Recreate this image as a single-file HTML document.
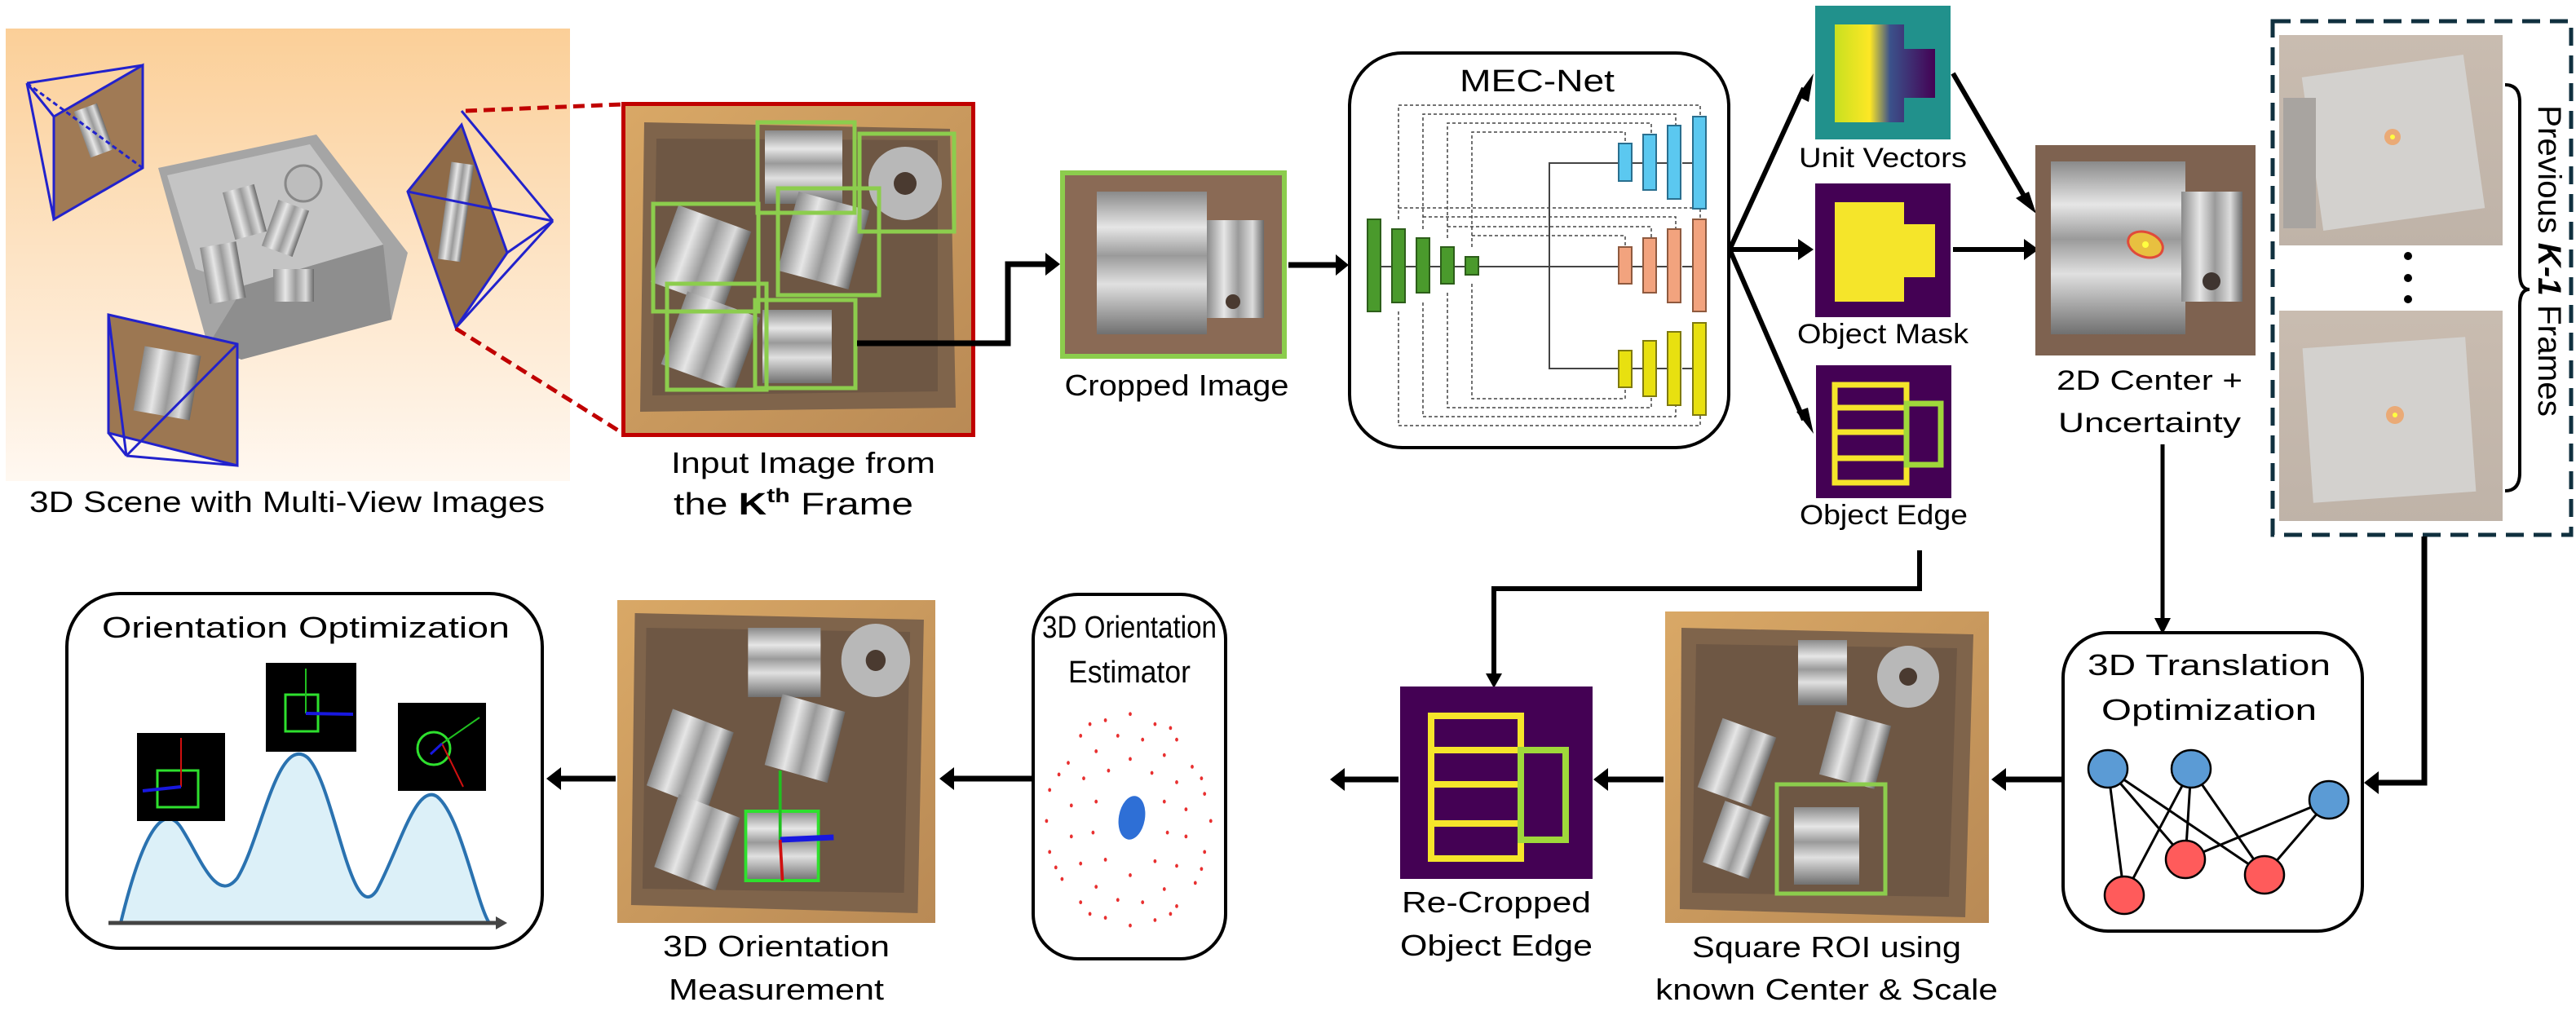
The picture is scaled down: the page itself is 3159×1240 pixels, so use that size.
<!DOCTYPE html>
<html><head><meta charset="utf-8"><style>
html,body{margin:0;padding:0;background:#fff;}
svg{display:block;}
text{font-family:"Liberation Sans",sans-serif;fill:#000;}
</style></head><body>
<svg width="3159" height="1240" viewBox="0 0 3159 1240" xmlns="http://www.w3.org/2000/svg">
<defs>
<linearGradient id="peach" x1="0" y1="0" x2="0" y2="1"><stop offset="0" stop-color="#fbcf98"/><stop offset="1" stop-color="#fff8f1"/></linearGradient>
<linearGradient id="tan" x1="0" y1="0" x2="1" y2="1"><stop offset="0" stop-color="#d9a866"/><stop offset="1" stop-color="#b98a55"/></linearGradient>
<linearGradient id="metal" x1="0" y1="0" x2="0" y2="1"><stop offset="0" stop-color="#8a8a8a"/><stop offset=".25" stop-color="#e6e6e6"/><stop offset=".45" stop-color="#9a9a9a"/><stop offset=".65" stop-color="#e0e0e0"/><stop offset="1" stop-color="#707070"/></linearGradient>
<linearGradient id="metalv" x1="0" y1="0" x2="1" y2="0"><stop offset="0" stop-color="#8a8a8a"/><stop offset=".3" stop-color="#e6e6e6"/><stop offset=".55" stop-color="#9a9a9a"/><stop offset=".8" stop-color="#dcdcdc"/><stop offset="1" stop-color="#6a6a6a"/></linearGradient>
<linearGradient id="uv" x1="0" y1="0" x2="1" y2="0"><stop offset="0" stop-color="#c8e020"/><stop offset=".35" stop-color="#fde725"/><stop offset=".55" stop-color="#3b528b"/><stop offset="1" stop-color="#440154"/></linearGradient>
<linearGradient id="fog" x1="0" y1="0" x2="0" y2="1"><stop offset="0" stop-color="#c9bcb0"/><stop offset="1" stop-color="#bfb3a8"/></linearGradient>
</defs>

<!-- ===== 3D scene panel ===== -->
<rect x="7" y="35" width="692" height="555" fill="url(#peach)"/>
<polygon points="194,206 388,165 500,310 480,392 296,441 255,424" fill="#a5a5a5"/>
<polygon points="205,215 380,177 470,300 300,350 240,330" fill="#c4c4c4"/>
<polygon points="255,424 296,441 480,392 470,300 300,350" fill="#8e8e8e"/>
<rect x="280" y="230" width="40" height="60" fill="url(#metalv)" transform="rotate(-15 300 260)"/>
<rect x="330" y="250" width="40" height="60" fill="url(#metalv)" transform="rotate(20 350 280)"/>
<circle cx="372" cy="225" r="22" fill="#bdbdbd" stroke="#888" stroke-width="3"/>
<rect x="250" y="300" width="45" height="70" fill="url(#metalv)" transform="rotate(-10 270 330)"/>
<rect x="335" y="330" width="50" height="40" fill="url(#metalv)"/>
<polygon points="66,143 175,80 175,206 66,269" fill="#a07a55"/>
<rect x="100" y="130" width="30" height="60" fill="url(#metalv)" transform="rotate(-20 115 160)"/>
<g stroke="#2222cc" stroke-width="3" fill="none"><polygon points="66,143 175,80 175,206 66,269"/><line x1="33" y1="102" x2="66" y2="143"/><line x1="33" y1="102" x2="175" y2="80"/><line x1="33" y1="102" x2="66" y2="269"/><line x1="33" y1="102" x2="175" y2="206" stroke-dasharray="6,4"/></g>
<polygon points="500,235 566,153 622,310 559,402" fill="#8f6b48"/>
<rect x="545" y="200" width="28" height="120" fill="url(#metalv)" transform="rotate(8 560 260)"/>
<g stroke="#2222cc" stroke-width="3" fill="none"><polygon points="500,235 566,153 622,310 559,402"/><line x1="678" y1="271" x2="566" y2="136"/><line x1="678" y1="271" x2="500" y2="235"/><line x1="678" y1="271" x2="622" y2="310"/><line x1="678" y1="271" x2="559" y2="402"/></g>
<polygon points="133,386 291,422 291,571 133,531" fill="#9c7752"/>
<rect x="170" y="430" width="70" height="80" fill="url(#metalv)" transform="rotate(10 205 470)"/>
<g stroke="#2222cc" stroke-width="3" fill="none"><polygon points="133,386 291,422 291,571 133,531"/><line x1="155" y1="559" x2="133" y2="386"/><line x1="155" y1="559" x2="291" y2="422"/><line x1="155" y1="559" x2="291" y2="571"/><line x1="155" y1="559" x2="133" y2="531"/></g>
<g stroke="#c00000" stroke-width="5" stroke-dasharray="14,8"><line x1="571" y1="136" x2="763" y2="128"/><line x1="559" y1="403" x2="763" y2="531"/></g>
<text x="352" y="628" font-size="36" text-anchor="middle" textLength="632" lengthAdjust="spacingAndGlyphs">3D Scene with Multi-View Images</text>

<!-- ===== Input image ===== -->
<rect x="763" y="126" width="432" height="409" fill="url(#tan)"/>
<polygon points="790,150 1165,158 1172,500 785,505" fill="#7f644b"/>
<polygon points="805,170 1150,172 1150,480 800,485" fill="#6e5744"/>
<rect x="938" y="160" width="95" height="90" fill="url(#metal)"/>
<circle cx="1110" cy="225" r="45" fill="#b8b8b8"/><circle cx="1110" cy="225" r="14" fill="#4a3a30"/>
<rect x="965" y="245" width="90" height="100" fill="url(#metalv)" transform="rotate(15 1010 295)"/>
<rect x="812" y="265" width="95" height="100" fill="url(#metalv)" transform="rotate(20 860 315)"/>
<rect x="825" y="370" width="95" height="95" fill="url(#metalv)" transform="rotate(20 870 415)"/>
<rect x="935" y="380" width="85" height="90" fill="url(#metal)"/>
<g fill="none" stroke="#8ccd4d" stroke-width="5"><rect x="929" y="150" width="119" height="111"/><rect x="1054" y="164" width="116" height="120"/><rect x="954" y="231" width="124" height="131"/><rect x="801" y="250" width="129" height="132"/><rect x="818" y="348" width="122" height="130"/><rect x="926" y="368" width="123" height="108"/></g>
<rect x="764.5" y="127.5" width="429" height="406" fill="none" stroke="#c00000" stroke-width="5"/>
<text x="985" y="580" font-size="36" text-anchor="middle" textLength="324" lengthAdjust="spacingAndGlyphs">Input Image from</text>
<text x="826" y="631" font-size="38" textLength="294" lengthAdjust="spacingAndGlyphs">the <tspan font-weight="bold">K</tspan><tspan font-size="24" dy="-15" font-weight="bold">th</tspan><tspan dy="15">  Frame</tspan></text>

<!-- arrow to cropped -->
<polyline points="1051,421 1236,421 1236,324 1284,324" fill="none" stroke="#000" stroke-width="7"/>
<polygon points="1282,310 1300,324 1282,338"/>

<!-- ===== Cropped image ===== -->
<rect x="1300" y="209" width="278" height="231" fill="#8a6a55"/>
<rect x="1345" y="235" width="135" height="175" fill="url(#metal)"/>
<rect x="1480" y="270" width="70" height="120" fill="url(#metalv)"/>
<circle cx="1512" cy="370" r="9" fill="#4a3a30"/>
<rect x="1303" y="212" width="272" height="225" fill="none" stroke="#8ccd4d" stroke-width="6"/>
<text x="1443" y="485" font-size="36" text-anchor="middle" textLength="275" lengthAdjust="spacingAndGlyphs">Cropped Image</text>

<!-- arrow to MEC -->
<line x1="1580" y1="325" x2="1640" y2="325" stroke="#000" stroke-width="7"/>
<polygon points="1638,312 1654,325 1638,338"/>

<!-- ===== MEC-Net ===== -->
<rect x="1655" y="65" width="465" height="484" rx="65" ry="65" fill="#fff" stroke="#000" stroke-width="4"/>
<text x="1885" y="112" font-size="38" text-anchor="middle" textLength="190" lengthAdjust="spacingAndGlyphs">MEC-Net</text>
<g fill="none" stroke="#444" stroke-width="1.5" stroke-dasharray="4,3">
<polyline points="1715,269 1715,129 2085,129 2085,143"/>
<polyline points="1745,281 1745,140 2055,140 2055,154"/>
<polyline points="1775,292 1775,151 2025,151 2025,165"/>
<polyline points="1805,303 1805,162 1993,162 1993,176"/>
<polyline points="1715,255 2085,255 2085,269"/>
<polyline points="1745,266 2055,266 2055,281"/>
<polyline points="1775,278 2025,278 2025,292"/>
<polyline points="1805,289 1993,289 1993,303"/>
<polyline points="1715,382 1715,522 2085,522 2085,509"/>
<polyline points="1745,371 1745,511 2055,511 2055,497"/>
<polyline points="1775,359 1775,500 2025,500 2025,486"/>
<polyline points="1805,348 1805,489 1993,489 1993,475"/>
</g>
<g stroke="#444" stroke-width="2" fill="none">
<line x1="1690" y1="327" x2="1985" y2="327"/>
<polyline points="1985,200 1900,200 1900,452 1985,452"/>
<line x1="2001" y1="200" x2="2017" y2="200"/><line x1="2031" y1="200" x2="2047" y2="200"/><line x1="2063" y1="200" x2="2077" y2="200"/>
<line x1="2001" y1="327" x2="2017" y2="327"/><line x1="2031" y1="327" x2="2047" y2="327"/><line x1="2063" y1="327" x2="2077" y2="327"/>
<line x1="2001" y1="452" x2="2017" y2="452"/><line x1="2031" y1="452" x2="2047" y2="452"/><line x1="2063" y1="452" x2="2077" y2="452"/>
</g>
<g fill="#4a9a2c" stroke="#2d5e1a" stroke-width="2">
<rect x="1677" y="269" width="16" height="113"/><rect x="1707" y="281" width="16" height="90"/><rect x="1737" y="292" width="16" height="67"/><rect x="1767" y="303" width="16" height="45"/><rect x="1797" y="315" width="16" height="22"/></g>
<g fill="#5bc8f0" stroke="#2a6f8f" stroke-width="2">
<rect x="1985" y="176" width="16" height="46"/><rect x="2015" y="165" width="16" height="68"/><rect x="2045" y="154" width="16" height="90"/><rect x="2076" y="143" width="16" height="113"/></g>
<g fill="#f2a37e" stroke="#8f5a3f" stroke-width="2">
<rect x="1985" y="303" width="16" height="45"/><rect x="2015" y="292" width="16" height="67"/><rect x="2045" y="281" width="16" height="90"/><rect x="2076" y="269" width="16" height="113"/></g>
<g fill="#e8e010" stroke="#7f7a10" stroke-width="2">
<rect x="1985" y="430" width="16" height="45"/><rect x="2015" y="418" width="16" height="68"/><rect x="2045" y="407" width="16" height="90"/><rect x="2076" y="396" width="16" height="113"/></g>

<g stroke="#000" stroke-width="6" fill="none"><line x1="2122" y1="304" x2="2212" y2="108"/><line x1="2122" y1="306" x2="2205" y2="306"/><line x1="2122" y1="308" x2="2212" y2="515"/></g>
<polygon points="2224,90 2218,125 2204,118"/>
<polygon points="2205,293 2224,306 2205,319"/>
<polygon points="2224,532 2203,505 2217,500"/>

<rect x="2226" y="7" width="166" height="164" fill="#21918c"/>
<path d="M2250,30 L2335,30 L2335,60 L2373,60 L2373,120 L2335,120 L2335,150 L2250,150 Z" fill="url(#uv)"/>
<text x="2309" y="205" font-size="34" text-anchor="middle" textLength="206" lengthAdjust="spacingAndGlyphs">Unit Vectors</text>
<rect x="2226" y="225" width="166" height="164" fill="#440154"/>
<path d="M2250,248 L2335,248 L2335,275 L2373,275 L2373,340 L2335,340 L2335,370 L2250,370 Z" fill="#f5e52a"/>
<text x="2309" y="421" font-size="34" text-anchor="middle" textLength="210" lengthAdjust="spacingAndGlyphs">Object Mask</text>
<rect x="2227" y="448" width="166" height="163" fill="#440154"/>
<g fill="none" stroke="#f5e52a" stroke-width="7"><rect x="2250" y="472" width="88" height="120"/><line x1="2250" y1="500" x2="2338" y2="500"/><line x1="2250" y1="530" x2="2338" y2="530"/><line x1="2250" y1="562" x2="2338" y2="562"/><rect x="2338" y="495" width="42" height="75" stroke="#9fd83a"/></g>
<text x="2310" y="643" font-size="34" text-anchor="middle" textLength="206" lengthAdjust="spacingAndGlyphs">Object Edge</text>

<g stroke="#000" stroke-width="6"><line x1="2395" y1="90" x2="2482" y2="240"/><line x1="2395" y1="306" x2="2484" y2="306"/></g>
<polygon points="2497,262 2472,243 2488,235"/>
<polygon points="2482,293 2500,306 2482,319"/>

<rect x="2496" y="178" width="270" height="258" fill="#7e6250"/>
<rect x="2515" y="198" width="165" height="212" fill="url(#metal)"/>
<rect x="2675" y="235" width="75" height="135" fill="url(#metalv)"/>
<circle cx="2712" cy="345" r="11" fill="#3f3530"/>
<ellipse cx="2631" cy="300" rx="22" ry="15" fill="#e8c040" stroke="#e04a3a" stroke-width="3" transform="rotate(20 2631 300)"/>
<circle cx="2631" cy="300" r="4" fill="#ffff40"/>
<text x="2636" y="478" font-size="34" text-anchor="middle" textLength="228" lengthAdjust="spacingAndGlyphs">2D Center +</text>
<text x="2636" y="530" font-size="34" text-anchor="middle" textLength="224" lengthAdjust="spacingAndGlyphs">Uncertainty</text>
<line x1="2652" y1="545" x2="2652" y2="762" stroke="#000" stroke-width="5"/>
<polygon points="2642,758 2652,778 2662,758"/>

<rect x="2795" y="43" width="274" height="258" fill="url(#fog)"/>
<rect x="2835" y="80" width="200" height="190" fill="#d3d1ce" transform="rotate(-8 2935 175)"/>
<rect x="2800" y="120" width="40" height="160" fill="#a8a4a0"/>
<circle cx="2934" cy="168" r="10" fill="#f0a060" opacity=".8"/><circle cx="2934" cy="168" r="3" fill="#ffff40"/>
<rect x="2795" y="381" width="274" height="258" fill="url(#fog)"/>
<rect x="2830" y="420" width="200" height="190" fill="#d3d1ce" transform="rotate(-4 2930 515)"/>
<circle cx="2937" cy="509" r="11" fill="#f0a060" opacity=".8"/><circle cx="2937" cy="509" r="3" fill="#ffff40"/>
<circle cx="2953" cy="314" r="5"/><circle cx="2953" cy="341" r="5"/><circle cx="2953" cy="367" r="5"/>
<path d="M3072,104 Q3090,104 3090,125 L3090,335 Q3090,355 3102,355 Q3090,355 3090,375 L3090,580 Q3090,602 3072,602" fill="none" stroke="#000" stroke-width="4"/>
<text x="0" y="0" font-size="40" text-anchor="middle" transform="translate(3113,320) rotate(90)" textLength="382" lengthAdjust="spacingAndGlyphs">Previous <tspan font-weight="bold" font-style="italic">K-1</tspan> Frames</text>
<rect x="2787" y="26" width="366" height="630" fill="none" stroke="#10303f" stroke-width="5" stroke-dasharray="22,12"/>
<polyline points="2973,658 2973,960 2915,960" fill="none" stroke="#000" stroke-width="7"/>
<polygon points="2917,946 2899,960 2917,974"/>

<!-- ===== Translation optimization ===== -->
<rect x="2530" y="776" width="367" height="366" rx="55" ry="55" fill="#fff" stroke="#000" stroke-width="4"/>
<text x="2709" y="828" font-size="36" text-anchor="middle" textLength="298" lengthAdjust="spacingAndGlyphs">3D Translation</text>
<text x="2709" y="883" font-size="36" text-anchor="middle" textLength="264" lengthAdjust="spacingAndGlyphs">Optimization</text>
<g stroke="#000" stroke-width="3"><line x1="2585" y1="943" x2="2605" y2="1098"/><line x1="2585" y1="943" x2="2680" y2="1054"/><line x1="2585" y1="943" x2="2777" y2="1073"/><line x1="2687" y1="943" x2="2605" y2="1098"/><line x1="2687" y1="943" x2="2680" y2="1054"/><line x1="2687" y1="943" x2="2777" y2="1073"/><line x1="2856" y1="981" x2="2680" y2="1054"/><line x1="2856" y1="981" x2="2777" y2="1073"/></g>
<g stroke="#000" stroke-width="2.5"><ellipse cx="2585" cy="943" rx="24" ry="23" fill="#5b9bd5"/><ellipse cx="2687" cy="943" rx="24" ry="23" fill="#5b9bd5"/><ellipse cx="2856" cy="981" rx="24" ry="23" fill="#5b9bd5"/><ellipse cx="2605" cy="1098" rx="24" ry="23" fill="#ff5b5b"/><ellipse cx="2680" cy="1054" rx="24" ry="23" fill="#ff5b5b"/><ellipse cx="2777" cy="1073" rx="24" ry="23" fill="#ff5b5b"/></g>
<line x1="2528" y1="956" x2="2458" y2="956" stroke="#000" stroke-width="7"/>
<polygon points="2460,942 2442,956 2460,970"/>

<!-- ===== Square ROI ===== -->
<rect x="2042" y="750" width="397" height="382" fill="url(#tan)"/>
<polygon points="2062,770 2420,778 2410,1125 2060,1115" fill="#7f644b"/>
<polygon points="2080,790 2400,795 2390,1100 2075,1095" fill="#6e5744"/>
<rect x="2205" y="785" width="60" height="80" fill="url(#metal)"/>
<circle cx="2340" cy="830" r="38" fill="#b8b8b8"/><circle cx="2340" cy="830" r="11" fill="#4a3a30"/>
<rect x="2240" y="880" width="70" height="80" fill="url(#metalv)" transform="rotate(15 2275 920)"/>
<rect x="2095" y="890" width="70" height="90" fill="url(#metalv)" transform="rotate(20 2130 935)"/>
<rect x="2100" y="990" width="60" height="80" fill="url(#metalv)" transform="rotate(20 2130 1030)"/>
<rect x="2200" y="990" width="80" height="95" fill="url(#metal)"/>
<rect x="2179" y="962" width="133" height="134" fill="none" stroke="#8ccd4d" stroke-width="5"/>
<text x="2240" y="1174" font-size="36" text-anchor="middle" textLength="330" lengthAdjust="spacingAndGlyphs">Square ROI using</text>
<text x="2240" y="1226" font-size="36" text-anchor="middle" textLength="420" lengthAdjust="spacingAndGlyphs">known Center &amp; Scale</text>
<line x1="2040" y1="956" x2="1970" y2="956" stroke="#000" stroke-width="7"/>
<polygon points="1972,942 1954,956 1972,970"/>

<!-- ===== Re-cropped edge ===== -->
<polyline points="2354,675 2354,722 1832,722 1832,828" fill="none" stroke="#000" stroke-width="6"/>
<polygon points="1822,826 1832,844 1842,826"/>
<rect x="1717" y="842" width="236" height="236" fill="#440154"/>
<g fill="none" stroke="#f5e52a" stroke-width="8"><rect x="1755" y="878" width="110" height="175"/><line x1="1755" y1="920" x2="1865" y2="920"/><line x1="1755" y1="962" x2="1865" y2="962"/><line x1="1755" y1="1010" x2="1865" y2="1010"/><rect x="1865" y="920" width="55" height="110" stroke="#9fd83a"/></g>
<text x="1835" y="1119" font-size="36" text-anchor="middle" textLength="232" lengthAdjust="spacingAndGlyphs">Re-Cropped</text>
<text x="1835" y="1172" font-size="36" text-anchor="middle" textLength="236" lengthAdjust="spacingAndGlyphs">Object Edge</text>
<line x1="1715" y1="956" x2="1647" y2="956" stroke="#000" stroke-width="7"/>
<polygon points="1649,942 1631,956 1649,970"/>

<!-- ===== 3D orientation estimator ===== -->
<rect x="1267" y="729" width="236" height="447" rx="55" ry="55" fill="#fff" stroke="#000" stroke-width="4"/>
<text x="1385" y="782" font-size="38" text-anchor="middle" textLength="214" lengthAdjust="spacingAndGlyphs">3D Orientation</text>
<text x="1385" y="837" font-size="38" text-anchor="middle" textLength="150" lengthAdjust="spacingAndGlyphs">Estimator</text>
<g fill="#e83030" transform="translate(1386,1005) scale(0.76,0.95) translate(-1440,-1008)">
<circle cx="1440" cy="872" r="2.5"/><circle cx="1400" cy="880" r="2.5"/><circle cx="1480" cy="885" r="2.5"/><circle cx="1360" cy="900" r="2.5"/><circle cx="1515" cy="905" r="2.5"/><circle cx="1340" cy="935" r="2.5"/><circle cx="1540" cy="940" r="2.5"/><circle cx="1310" cy="970" r="2.5"/><circle cx="1560" cy="975" r="2.5"/><circle cx="1305" cy="1010" r="2.5"/><circle cx="1570" cy="1010" r="2.5"/><circle cx="1310" cy="1050" r="2.5"/><circle cx="1560" cy="1050" r="2.5"/><circle cx="1330" cy="1085" r="2.5"/><circle cx="1545" cy="1090" r="2.5"/><circle cx="1360" cy="1115" r="2.5"/><circle cx="1515" cy="1120" r="2.5"/><circle cx="1400" cy="1135" r="2.5"/><circle cx="1480" cy="1138" r="2.5"/><circle cx="1440" cy="1145" r="2.5"/>
<circle cx="1420" cy="900" r="2.5"/><circle cx="1460" cy="905" r="2.5"/><circle cx="1385" cy="920" r="2.5"/><circle cx="1495" cy="925" r="2.5"/><circle cx="1365" cy="955" r="2.5"/><circle cx="1515" cy="960" r="2.5"/><circle cx="1345" cy="990" r="2.5"/><circle cx="1530" cy="995" r="2.5"/><circle cx="1345" cy="1030" r="2.5"/><circle cx="1530" cy="1030" r="2.5"/><circle cx="1360" cy="1065" r="2.5"/><circle cx="1515" cy="1068" r="2.5"/><circle cx="1385" cy="1095" r="2.5"/><circle cx="1495" cy="1098" r="2.5"/><circle cx="1420" cy="1112" r="2.5"/><circle cx="1460" cy="1115" r="2.5"/>
<circle cx="1440" cy="930" r="2.5"/><circle cx="1405" cy="945" r="2.5"/><circle cx="1475" cy="948" r="2.5"/><circle cx="1385" cy="985" r="2.5"/><circle cx="1495" cy="985" r="2.5"/><circle cx="1380" cy="1025" r="2.5"/><circle cx="1500" cy="1025" r="2.5"/><circle cx="1400" cy="1060" r="2.5"/><circle cx="1480" cy="1062" r="2.5"/><circle cx="1440" cy="1080" r="2.5"/>
<circle cx="1325" cy="950" r="2.5"/><circle cx="1555" cy="955" r="2.5"/><circle cx="1320" cy="1070" r="2.5"/><circle cx="1555" cy="1072" r="2.5"/><circle cx="1375" cy="885" r="2.5"/><circle cx="1505" cy="890" r="2.5"/><circle cx="1375" cy="1130" r="2.5"/><circle cx="1505" cy="1130" r="2.5"/>
</g>
<ellipse cx="1388" cy="1003" rx="16" ry="27" fill="#2e6fd6" transform="rotate(10 1388 1003)"/>
<line x1="1265" y1="955" x2="1168" y2="955" stroke="#000" stroke-width="7"/>
<polygon points="1170,941 1152,955 1170,969"/>

<!-- ===== Orientation measurement ===== -->
<g transform="translate(757,0) scale(0.9375,1) translate(-757,0)">
<rect x="757" y="736" width="416" height="396" fill="url(#tan)"/>
<polygon points="780,752 1158,760 1150,1120 775,1110" fill="#7f644b"/>
<polygon points="795,770 1140,775 1132,1095 790,1090" fill="#6e5744"/>
<rect x="928" y="770" width="95" height="85" fill="url(#metal)"/>
<circle cx="1095" cy="810" r="45" fill="#b8b8b8"/><circle cx="1095" cy="810" r="13" fill="#4a3a30"/>
<rect x="960" y="860" width="85" height="90" fill="url(#metalv)" transform="rotate(15 1000 905)"/>
<rect x="810" y="880" width="85" height="100" fill="url(#metalv)" transform="rotate(20 850 930)"/>
<rect x="820" y="985" width="85" height="95" fill="url(#metalv)" transform="rotate(20 860 1030)"/>
<rect x="925" y="995" width="95" height="85" fill="url(#metal)" stroke="#2ee02e" stroke-width="4"/>
<line x1="970" y1="1030" x2="970" y2="945" stroke="#20c020" stroke-width="4"/>
<line x1="970" y1="1030" x2="1040" y2="1027" stroke="#1818e0" stroke-width="7"/>
<line x1="970" y1="1030" x2="973" y2="1080" stroke="#d01010" stroke-width="4"/>
</g>
<text x="952" y="1173" font-size="36" text-anchor="middle" textLength="278" lengthAdjust="spacingAndGlyphs">3D Orientation</text>
<text x="952" y="1226" font-size="36" text-anchor="middle" textLength="264" lengthAdjust="spacingAndGlyphs">Measurement</text>
<line x1="755" y1="955" x2="686" y2="955" stroke="#000" stroke-width="7"/>
<polygon points="688,941 670,955 688,969"/>

<!-- ===== Orientation optimization ===== -->
<rect x="82" y="728" width="583" height="435" rx="65" ry="65" fill="#fff" stroke="#000" stroke-width="4"/>
<text x="375" y="782" font-size="36" text-anchor="middle" textLength="500" lengthAdjust="spacingAndGlyphs">Orientation Optimization</text>
<path d="M148,1132 C180,1000 205,990 222,1015 C245,1050 265,1110 291,1077 C320,1030 340,900 377,929 C410,960 430,1140 462,1092 C490,1040 510,960 536,977 C565,1000 585,1110 600,1132 Z" fill="#dcf0f8"/>
<path d="M148,1132 C180,1000 205,990 222,1015 C245,1050 265,1110 291,1077 C320,1030 340,900 377,929 C410,960 430,1140 462,1092 C490,1040 510,960 536,977 C565,1000 585,1110 600,1132" fill="none" stroke="#2a72b0" stroke-width="4"/>
<line x1="133" y1="1132" x2="610" y2="1132" stroke="#444" stroke-width="5"/>
<polygon points="608,1124 622,1132 608,1140" fill="#444"/>
<rect x="168" y="899" width="108" height="108" fill="#000"/>
<rect x="193" y="945" width="50" height="45" fill="none" stroke="#2ee02e" stroke-width="3"/><line x1="222" y1="965" x2="222" y2="905" stroke="#d01010" stroke-width="2"/><line x1="222" y1="965" x2="175" y2="970" stroke="#1818e0" stroke-width="4"/>
<rect x="326" y="813" width="111" height="109" fill="#000"/>
<rect x="350" y="852" width="40" height="45" fill="none" stroke="#2ee02e" stroke-width="3"/><line x1="375" y1="875" x2="375" y2="820" stroke="#20c020" stroke-width="2"/><line x1="375" y1="875" x2="433" y2="876" stroke="#1818e0" stroke-width="4"/>
<rect x="488" y="862" width="108" height="108" fill="#000"/>
<circle cx="532" cy="918" r="20" fill="none" stroke="#2ee02e" stroke-width="3"/><line x1="542" y1="912" x2="588" y2="880" stroke="#20c020" stroke-width="2"/><line x1="542" y1="912" x2="568" y2="965" stroke="#d01010" stroke-width="2"/><line x1="542" y1="912" x2="528" y2="925" stroke="#1818e0" stroke-width="3"/>
</svg>
</body></html>
